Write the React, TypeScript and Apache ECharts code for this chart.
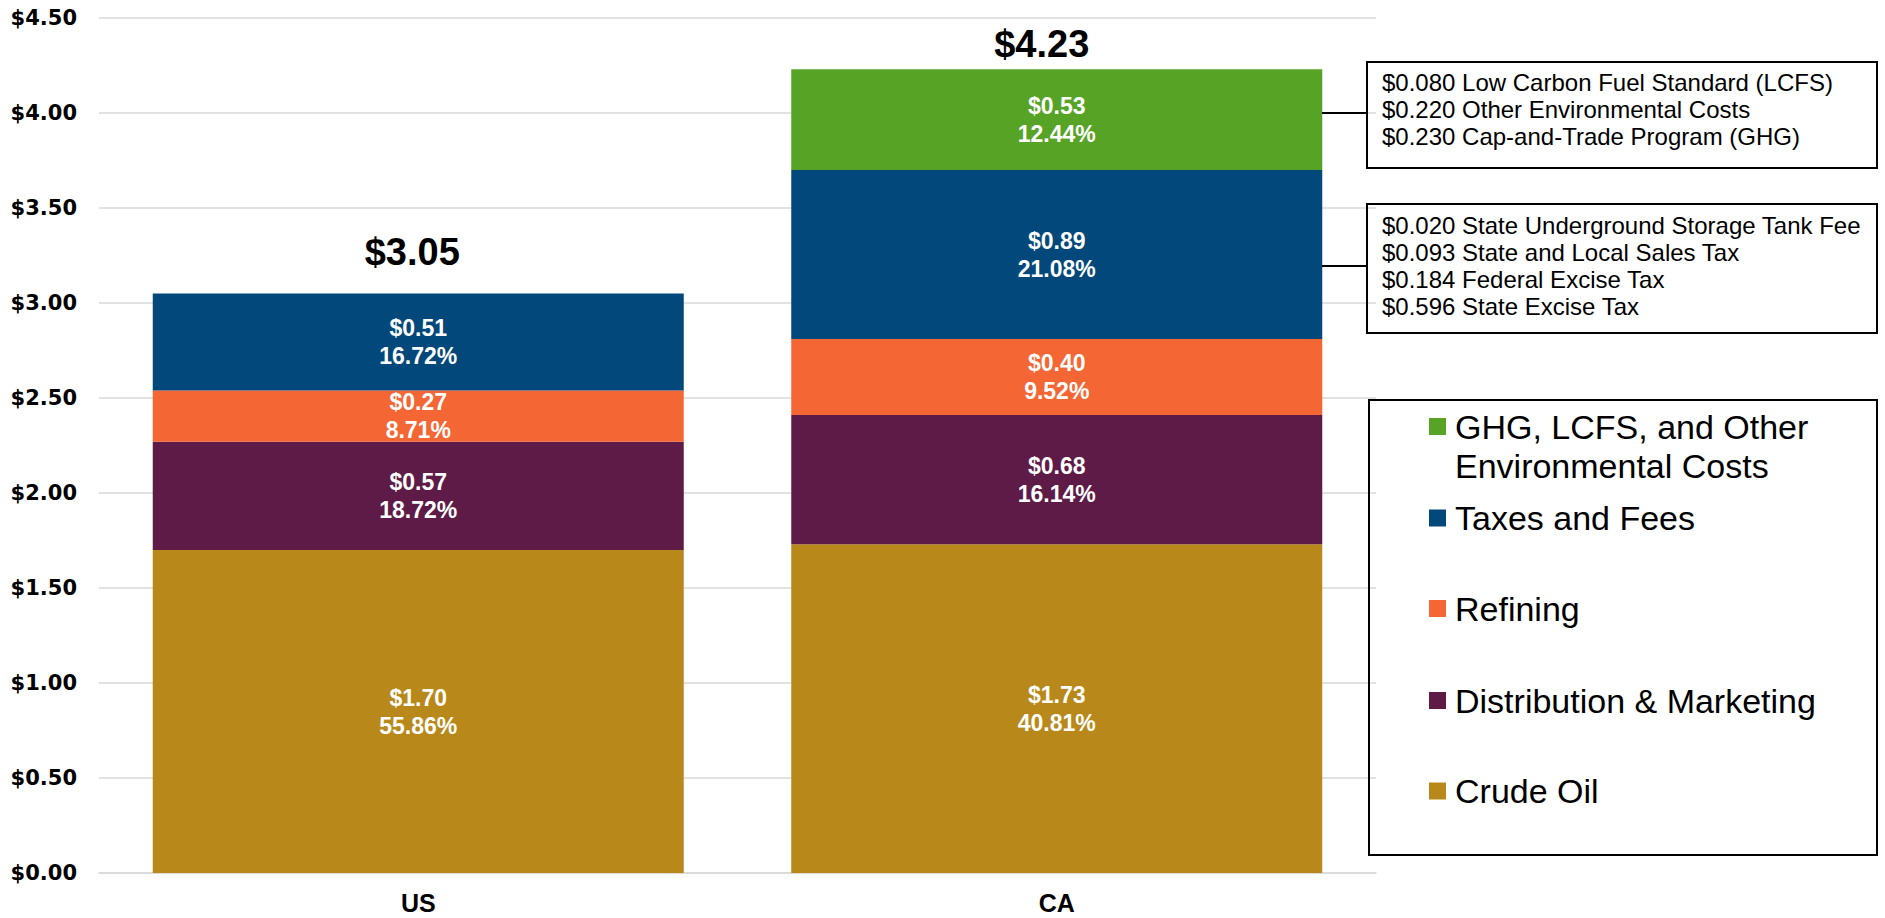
import React, { useEffect, useRef } from "react";
import * as echarts from "echarts";

const categories = ["US", "CA"];

const crudeOil = [1.7, 1.73];
const distribution = [0.57, 0.68];
const refining = [0.27, 0.4];
const taxesFees = [0.51, 0.89];
const ghgEnv = [null, 0.53];

const crudePct = [55.86, 40.81];
const distributionPct = [18.72, 16.14];
const refiningPct = [8.71, 9.52];
const taxesPct = [16.72, 21.08];
const ghgPct = [null, 12.44];

const totals = [3.05, 4.23];

const ghgBreakdown = [
  "$0.080 Low Carbon Fuel Standard (LCFS)",
  "$0.220 Other Environmental Costs",
  "$0.230 Cap-and-Trade Program (GHG)",
];
const taxBreakdown = [
  "$0.020 State Underground Storage Tank Fee",
  "$0.093 State and Local Sales Tax",
  "$0.184 Federal Excise Tax",
  "$0.596 State Excise Tax",
];

const NAMES = {
  crude: "Crude Oil",
  dist: "Distribution & Marketing",
  ref: "Refining",
  tax: "Taxes and Fees",
  ghg: "GHG, LCFS, and Other Environmental Costs",
};

const COLORS = {
  crude: "#B8891A",
  dist: "#5E1B47",
  ref: "#F46634",
  tax: "#02487A",
  ghg: "#57A326",
};

const ARIAL = '"Liberation Sans", Arial, sans-serif';

export default function App() {
  const ref = useRef<HTMLDivElement>(null);

  useEffect(() => {
    if (!ref.current) return;
    const chart = echarts.init(ref.current, null, { renderer: "svg" });

    const segLabel = (pcts: (number | null)[]) => ({
      show: true,
      position: "inside",
      color: "#fff",
      fontWeight: "bold",
      fontSize: 23,
      lineHeight: 28,
      fontFamily: ARIAL,
      formatter: (p: any) =>
        p.value == null ? "" : `$${Number(p.value).toFixed(2)}\n${Number(pcts[p.dataIndex]).toFixed(2)}%`,
    });

    const mkSeries = (name: string, data: (number | null)[], color: string, pcts: (number | null)[]) => ({
      name,
      type: "bar",
      stack: "price",
      barWidth: 531,
      data,
      itemStyle: { color },
      label: segLabel(pcts),
      silent: true,
    });

    const totalOffsets = [
      [-6, -18],
      [-15, -1],
    ];

    const legendTextBase = {
      fontFamily: ARIAL,
      fontSize: 34,
      lineHeight: 39,
      color: "#000",
      padding: [0, 0, 0, 4],
    };

    const mkLegend = (name: string, top: number, extra: any = {}) => ({
      data: [name],
      left: 1429,
      top,
      padding: 0,
      orient: "vertical",
      icon: "rect",
      itemWidth: 17,
      itemHeight: 17,
      selectedMode: false,
      textStyle: legendTextBase,
      ...extra,
    });

    const G = (el: any) => ({ z: 100, ...el });

    const option: any = {
      animation: false,
      backgroundColor: "#fff",
      grid: { left: 99, right: 509, top: 18, bottom: 45 },
      xAxis: {
        type: "category",
        data: categories,
        axisTick: { show: false },
        axisLine: { lineStyle: { color: "#d9d9d9", width: 1.5 } },
        axisLabel: {
          color: "#000",
          fontWeight: "bold",
          fontSize: 25,
          fontFamily: ARIAL,
          margin: 17,
        },
      },
      yAxis: {
        type: "value",
        min: 0,
        max: 4.5,
        interval: 0.5,
        axisLine: { show: false },
        axisTick: { show: false },
        splitLine: { lineStyle: { color: "#d9d9d9", width: 1.5 } },
        axisLabel: {
          color: "#000",
          fontWeight: "bold",
          fontSize: 21,
          fontFamily: '"DejaVu Sans", sans-serif',
          margin: 22,
          formatter: (v: number) => `$${v.toFixed(2)}`,
        },
      },
      legend: [
        mkLegend(NAMES.ghg, 368, {
          formatter: (n: string) => "\n" + n.replace(", and Other ", ", and Other\n"),
        }),
        mkLegend(NAMES.tax, 498.5),
        mkLegend(NAMES.ref, 589),
        mkLegend(NAMES.dist, 681),
        mkLegend(NAMES.crude, 771.5),
      ],
      series: [
        mkSeries(NAMES.crude, crudeOil, COLORS.crude, crudePct),
        mkSeries(NAMES.dist, distribution, COLORS.dist, distributionPct),
        mkSeries(NAMES.ref, refining, COLORS.ref, refiningPct),
        mkSeries(NAMES.tax, taxesFees, COLORS.tax, taxesPct),
        mkSeries(NAMES.ghg, ghgEnv, COLORS.ghg, ghgPct),
        {
          name: "Total",
          type: "bar",
          barWidth: 531,
          barGap: "-100%",
          silent: true,
          itemStyle: { color: "rgba(0,0,0,0)" },
          data: totals.map((v, i) => ({
            value: v,
            label: { offset: totalOffsets[i] },
          })),
          label: {
            show: true,
            position: "top",
            color: "#000",
            fontWeight: "bold",
            fontSize: 38,
            fontFamily: ARIAL,
            formatter: (p: any) => `$${Number(p.value).toFixed(2)}`,
          },
          z: 1,
        },
      ],
      graphic: [
        G({
          type: "rect",
          shape: { x: 1367, y: 62, width: 510, height: 106 },
          style: { fill: "none", stroke: "#000", lineWidth: 2 },
        }),
        G({
          type: "rect",
          shape: { x: 1367, y: 204, width: 510, height: 129 },
          style: { fill: "none", stroke: "#000", lineWidth: 2 },
        }),
        G({
          type: "rect",
          shape: { x: 1369, y: 400, width: 508, height: 455 },
          style: { fill: "none", stroke: "#000", lineWidth: 2 },
        }),
        G({
          type: "line",
          shape: { x1: 1322, y1: 113, x2: 1367, y2: 113 },
          style: { stroke: "#000", lineWidth: 2 },
        }),
        G({
          type: "line",
          shape: { x1: 1322, y1: 266, x2: 1367, y2: 266 },
          style: { stroke: "#000", lineWidth: 2 },
        }),
        G({
          type: "text",
          x: 1382,
          y: 69,
          style: {
            text: ghgBreakdown.join("\n"),
            font: `24px ${ARIAL}`,
            fill: "#000",
            lineHeight: 27,
            verticalAlign: "top",
          },
        }),
        G({
          type: "text",
          x: 1382,
          y: 211.5,
          style: {
            text: taxBreakdown.join("\n"),
            font: `24px ${ARIAL}`,
            fill: "#000",
            lineHeight: 27,
            verticalAlign: "top",
          },
        }),
      ],
    };

    chart.setOption(option);
    return () => chart.dispose();
  }, []);

  return (
    <div
      ref={ref}
      style={{ position: "absolute", left: 0, top: 0, width: 1885, height: 918, background: "#fff" }}
    />
  );
}
